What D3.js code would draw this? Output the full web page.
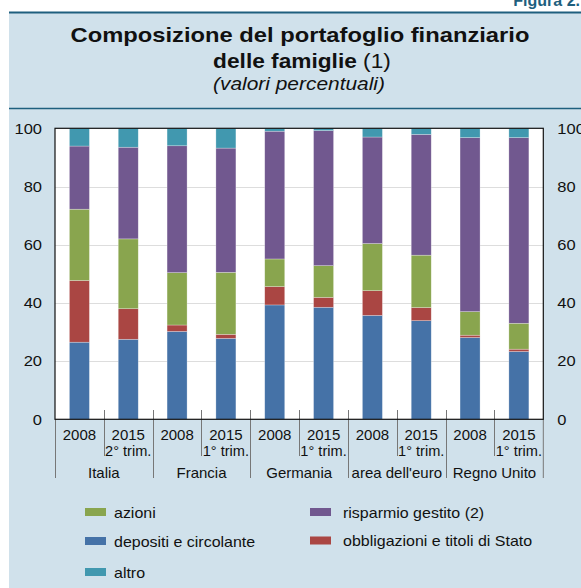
<!DOCTYPE html>
<html><head><meta charset="utf-8">
<script src="https://cdn.jsdelivr.net/npm/d3@7"></script>
<style>
body{margin:0;background:#fff;}
svg{display:block;font-family:"Liberation Sans",Arial,Helvetica,sans-serif;}
</style></head>
<body>
<svg id="chart" width="581" height="588"></svg>
<script>
const countries = ["Italia","Francia","Germania","area dell'euro","Regno Unito"];
const years = ["2008","2015","2008","2015","2008","2015","2008","2015","2008","2015"];
const quarters = ["","2° trim.","","1° trim.","","1° trim.","","1° trim.","","1° trim."];
const depositi =     [26.5, 27.5, 30.2, 27.8, 39.3, 38.5, 35.7, 33.9, 28.1, 23.3];
const obbligazioni = [21.2, 10.5,  2.2,  1.4,  6.3,  3.4,  8.5,  4.5,  0.8,  0.8];
const azioni =       [24.5, 24.0, 18.0, 21.3,  9.5, 10.9, 16.2, 18.0,  8.1,  8.9];
const risparmio =    [21.7, 31.5, 43.6, 42.7, 43.9, 46.4, 36.6, 41.5, 59.8, 63.8];
const altro =        [ 6.1,  6.5,  6.0,  6.8,  1.0,  0.8,  3.0,  2.1,  3.2,  3.2];
const yTicks = [0,20,40,60,80,100];

const seriesKeys = ["depositi","obbligazioni","azioni","risparmio","altro"];
const colors = {depositi:"#4572a7",obbligazioni:"#aa4643",azioni:"#89a54e",risparmio:"#71588f",altro:"#4198af"};
const labels = {depositi:"depositi e circolante",obbligazioni:"obbligazioni e titoli di Stato",azioni:"azioni",risparmio:"risparmio gestito (2)",altro:"altro"};

const table = years.map((p,i)=>({idx:i, depositi:depositi[i], obbligazioni:obbligazioni[i], azioni:azioni[i], risparmio:risparmio[i], altro:altro[i]}));

function stretch(sel, f){
  sel.each(function(){
    const n = this.getComputedTextLength();
    d3.select(this).attr("textLength", n*f).attr("lengthAdjust","spacingAndGlyphs");
  });
}

const svg = d3.select("#chart");
const W=581,H=588;
const bg="#d0e1eb", lineCol="#1e5f7e", txt="#111";

svg.append("rect").attr("x",9).attr("y",12).attr("width",W-9).attr("height",H-12).attr("fill",bg);
svg.append("line").attr("x1",9).attr("x2",W).attr("y1",12.5).attr("y2",12.5).attr("stroke",lineCol).attr("stroke-width",2);
svg.append("line").attr("x1",9).attr("x2",W).attr("y1",108.5).attr("y2",108.5).attr("stroke",lineCol).attr("stroke-width",1.5);
svg.append("text").attr("x",580).attr("y",6).attr("text-anchor","end").attr("font-weight","bold").attr("font-size",16).attr("fill",lineCol).text("Figura 2.");

const cx=300;
const t1 = svg.append("text").attr("x",cx).attr("y",42).attr("text-anchor","middle").attr("font-weight","bold").attr("font-size",21).attr("fill",txt).text("Composizione del portafoglio finanziario");
stretch(t1,1.13);
const t2 = svg.append("text").attr("x",302).attr("y",68).attr("text-anchor","middle").attr("font-size",21).attr("fill",txt);
t2.append("tspan").attr("font-weight","bold").text("delle famiglie ");
t2.append("tspan").text("(1)");
stretch(t2,1.08);
const t3 = svg.append("text").attr("x",299).attr("y",90).attr("text-anchor","middle").attr("font-style","italic").attr("font-size",19).attr("fill",txt).text("(valori percentuali)");
stretch(t3,1.1);

const L=55,R=543.3,T=128.3,B=419.3;
const x = d3.scaleBand().domain(d3.range(years.length)).range([L,R]).paddingInner(0).paddingOuter(0);
const y = d3.scaleLinear().domain([0,100]).range([B,T]);

svg.append("rect").attr("x",L).attr("y",T).attr("width",R-L).attr("height",B-T).attr("fill","#fff");

const bounds = d3.range(years.length+1);
svg.append("g").selectAll("line").data(bounds).join("line")
  .attr("x1",i=>i<years.length?Math.round(x(i))+0.5:R).attr("x2",i=>i<years.length?Math.round(x(i))+0.5:R)
  .attr("y1",i=>i===0||i===years.length?B:410).attr("y2",i=>i%2===0?478:456)
  .attr("stroke","#777").attr("stroke-width",1);

svg.append("g").selectAll("line").data(yTicks.filter(v=>v>0&&v<100)).join("line")
  .attr("x1",L).attr("x2",R).attr("y1",d=>Math.round(y(d))+0.5).attr("y2",d=>Math.round(y(d))+0.5)
  .attr("stroke","#dddddd").attr("stroke-width",1);

const stack = d3.stack().keys(seriesKeys)(table);
const bw = 20;
svg.append("g").selectAll("g").data(stack).join("g").attr("fill",d=>colors[d.key])
  .selectAll("rect").data(d=>d).join("rect")
  .attr("x",d=>x(d.data.idx)+x.bandwidth()/2-bw/2).attr("width",bw)
  .attr("y",d=>y(d[1])).attr("height",d=>y(d[0])-y(d[1]))
  .attr("stroke","rgba(255,255,255,0.45)").attr("stroke-width",0.6);

svg.append("rect").attr("x",L).attr("y",T).attr("width",R-L).attr("height",B-T).attr("fill","none").attr("stroke","#111").attr("stroke-width",1.2);

const yl = svg.append("g").attr("transform",`translate(${L},0)`).call(d3.axisLeft(y).tickValues(yTicks).tickSize(0).tickPadding(13));
yl.select(".domain").remove();
yl.selectAll("text").attr("font-size",15).attr("fill",txt).attr("font-family","Liberation Sans,Arial,sans-serif").call(stretch,1.1);
const yr = svg.append("g").attr("transform",`translate(${R},0)`).call(d3.axisRight(y).tickValues(yTicks).tickSize(0).tickPadding(14));
yr.select(".domain").remove();
yr.selectAll("text").attr("font-size",15).attr("fill",txt).attr("font-family","Liberation Sans,Arial,sans-serif").call(stretch,1.1);

svg.append("g").selectAll("text").data(years).join("text")
  .attr("x",(d,i)=>x(i)+x.bandwidth()/2).attr("y",440).attr("text-anchor","middle")
  .attr("font-size",15).attr("fill",txt).text(d=>d);
svg.append("g").selectAll("text").data(quarters).join("text")
  .attr("x",(d,i)=>x(i)+x.bandwidth()/2).attr("y",456).attr("text-anchor","middle")
  .attr("font-size",14.6).attr("fill",txt).text(d=>d);
svg.append("g").selectAll("text").data(countries).join("text")
  .attr("x",(d,i)=>x(i*2)+x.bandwidth()).attr("y",478).attr("text-anchor","middle")
  .attr("font-size",15).attr("fill",txt).text(d=>d);

const legendItems = [
  {k:"azioni",x:85,y:512,tx:29},{k:"risparmio",x:310,y:512,tx:33},
  {k:"depositi",x:85,y:541,tx:29},{k:"obbligazioni",x:310,y:540.5,tx:33},
  {k:"altro",x:85,y:572,tx:29}
];
const lg = svg.append("g").selectAll("g").data(legendItems).join("g").attr("transform",d=>`translate(${d.x},${d.y})`);
lg.append("rect").attr("x",0).attr("y",-4).attr("width",21).attr("height",8).attr("fill",d=>colors[d.k]);
lg.append("text").attr("x",d=>d.tx).attr("y",5.5).attr("font-size",15).attr("fill",txt).text(d=>labels[d.k]).call(stretch,1.065);
</script>
</body></html>
